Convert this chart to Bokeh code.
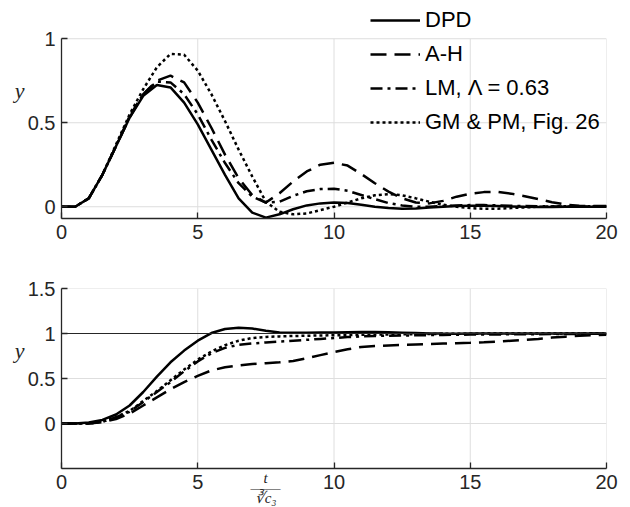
from bokeh.plotting import figure
from bokeh.models import (FixedTicker, Legend, LegendItem, Span, Range1d, LinearAxis)
from bokeh.layouts import column
from bokeh.embed import file_html
from bokeh.resources import INLINE

# ---- data ----
t = [0.0, 0.5, 1.0, 1.5, 2.0, 2.5, 3.0, 3.5, 4.0, 4.5,
     5.0, 5.5, 6.0, 6.5, 7.0, 7.5, 8.0, 8.5, 9.0, 9.5,
     10.0, 10.5, 11.0, 11.5, 12.0, 12.5, 13.0, 13.5, 14.0, 14.5,
     15.0, 15.5, 16.0, 16.5, 17.0, 17.5, 18.0, 18.5, 19.0, 19.5, 20.0]

# impulse-type responses (upper panel)
dpd_top = [0, 0, 0.05, 0.19, 0.36, 0.53, 0.66, 0.725, 0.71, 0.62,
           0.49, 0.34, 0.19, 0.05, -0.035, -0.065, -0.045, -0.015, 0.008, 0.02,
           0.025, 0.022, 0.012, 0.0, -0.008, -0.012, -0.01, -0.005, 0.0, 0.004,
           0.006, 0.006, 0.004, 0.002, 0.0, -0.001, -0.001, 0.0, 0.0, 0.0, 0.0]
ah_top = [0, 0, 0.05, 0.19, 0.36, 0.53, 0.67, 0.75, 0.78, 0.74,
          0.62, 0.47, 0.31, 0.17, 0.07, 0.025, 0.08, 0.15, 0.21, 0.25,
          0.262, 0.245, 0.195, 0.14, 0.09, 0.05, 0.025, 0.02, 0.035, 0.06,
          0.078, 0.087, 0.088, 0.078, 0.063, 0.045, 0.027, 0.013, 0.006, 0.004, 0.004]
lm_top = [0, 0, 0.05, 0.19, 0.36, 0.54, 0.67, 0.745, 0.74, 0.67,
          0.55, 0.40, 0.26, 0.14, 0.06, 0.025, 0.03, 0.065, 0.092, 0.105,
          0.107, 0.095, 0.07, 0.045, 0.022, 0.008, 0.0, 0.0, 0.004, 0.008,
          0.01, 0.01, 0.008, 0.006, 0.004, 0.003, 0.002, 0.002, 0.002, 0.002, 0.002]
gm_top = [0, 0, 0.05, 0.19, 0.37, 0.55, 0.70, 0.83, 0.91, 0.905,
          0.81, 0.67, 0.51, 0.34, 0.18, 0.03, -0.03, -0.045, -0.04, -0.02,
          0.0, 0.025, 0.05, 0.068, 0.075, 0.068, 0.05, 0.03, 0.012, 0.0,
          -0.008, -0.012, -0.012, -0.008, -0.004, 0.0, 0.002, 0.003, 0.003, 0.002, 0.001]

# step-type responses (lower panel)
dpd_bot = [0, 0, 0.01, 0.04, 0.1, 0.2, 0.35, 0.52, 0.68, 0.81,
           0.92, 1.005, 1.05, 1.064, 1.055, 1.03, 1.012, 1.008, 1.008, 1.01,
           1.012, 1.014, 1.016, 1.016, 1.013, 1.009, 1.005, 1.001, 0.999, 0.998,
           0.999, 1.0, 1.0, 1.0, 1.0, 1.0, 1.0, 1.0, 1.0, 1.0, 1.0]
ah_bot = [0, 0, 0.0, 0.015, 0.05, 0.11, 0.2, 0.29, 0.38, 0.46,
          0.53, 0.59, 0.625, 0.645, 0.66, 0.67, 0.68, 0.695, 0.725, 0.76,
          0.795, 0.825, 0.85, 0.86, 0.868, 0.873, 0.878, 0.883, 0.888, 0.892,
          0.897, 0.903, 0.91, 0.92, 0.93, 0.94, 0.955, 0.965, 0.975, 0.98, 0.985]
lm_bot = [0, 0, 0.0, 0.02, 0.07, 0.13, 0.24, 0.35, 0.46, 0.58,
          0.69, 0.78, 0.84, 0.875, 0.89, 0.9, 0.91, 0.92, 0.93, 0.94,
          0.95, 0.96, 0.968, 0.973, 0.976, 0.978, 0.98, 0.982, 0.984, 0.986,
          0.988, 0.989, 0.99, 0.991, 0.992, 0.993, 0.994, 0.995, 0.996, 0.997, 0.998]
gm_bot = [0, 0, 0.0, 0.02, 0.07, 0.14, 0.25, 0.36, 0.48, 0.6,
          0.71, 0.8, 0.87, 0.92, 0.95, 0.962, 0.968, 0.972, 0.975, 0.978,
          0.98, 0.983, 0.986, 0.988, 0.99, 0.991, 0.993, 0.994, 0.996, 0.997,
          0.998, 0.999, 1.0, 1.0, 1.0, 1.0, 1.0, 1.0, 1.0, 1.0, 1.0]

labels = ["DPD", "A-H", "LM, \u039b = 0.63", "GM & PM, Fig. 26"]
x_ticks = [0, 5, 10, 15, 20]
top_y_ticks = [0, 0.5, 1]
bot_y_ticks = [0, 0.5, 1, 1.5]
top_ylim = (-0.07, 1.0)
bot_ylim = (-0.5, 1.5)
y_label_text = "y"
x_label_text = "t\n\u2015\u2015\n\u221bc\u2083"

# ---- styles ----
styles = [
    dict(line_dash="solid"),
    dict(line_dash="16 8"),
    dict(line_dash="12 5 3 5"),
    dict(line_dash="3 3"),
]
LW = 2.5
AX = "#262626"
GRID = "#dedede"
TICK_FONT = "Liberation Sans"
TICK_SIZE = "20px"


def style_axis(ax):
    ax.major_tick_in = 6
    ax.major_tick_out = 0
    ax.minor_tick_line_color = None
    ax.axis_line_color = AX
    ax.axis_line_width = 1.3
    ax.major_tick_line_color = AX
    ax.major_tick_line_width = 1.3
    ax.major_label_text_font = TICK_FONT
    ax.major_label_text_font_size = TICK_SIZE
    ax.major_label_text_color = AX
    ax.major_label_standoff = 6


def label_axis(pos, text, size, standoff, line_height=1.2):
    """An axis with no line or tick marks that only carries one text at `pos`."""
    return LinearAxis(ticker=FixedTicker(ticks=[pos]),
                      major_label_overrides={pos: text},
                      axis_line_color=None, major_tick_line_color=None,
                      minor_tick_line_color=None,
                      major_label_text_font="Liberation Serif",
                      major_label_text_font_style="italic",
                      major_label_text_font_size=size,
                      major_label_text_color=AX,
                      major_label_standoff=standoff,
                      major_label_text_line_height=line_height)


def make_fig(ylim, view_top, yticks, frame_h, min_top, min_bottom):
    p = figure(frame_width=545, frame_height=frame_h,
               x_range=Range1d(0, 20), y_range=Range1d(ylim[0], view_top),
               output_backend="svg", toolbar_location=None,
               min_border_left=61, min_border_right=24,
               min_border_top=min_top, min_border_bottom=min_bottom)
    p.xaxis.ticker = FixedTicker(ticks=x_ticks)
    p.yaxis.ticker = FixedTicker(ticks=yticks)
    p.yaxis.bounds = ylim
    style_axis(p.xaxis[0])
    style_axis(p.yaxis[0])
    p.xgrid.visible = False
    p.ygrid.visible = False
    p.outline_line_color = None
    p.background_fill_color = "white"
    p.border_fill_color = "white"
    # grid lines, from the tick lists, limited to the axes box
    p.segment(x0=x_ticks, y0=[ylim[0]] * len(x_ticks), x1=x_ticks, y1=[ylim[1]] * len(x_ticks),
              line_color=GRID, line_width=1)
    p.segment(x0=[x_ticks[0]] * len(yticks), y0=yticks, x1=[x_ticks[-1]] * len(yticks), y1=yticks,
              line_color=GRID, line_width=1)
    return p


# ---- upper panel (frame extended upward so the legend is not clipped) ----
p1 = make_fig(top_ylim, 1.2276, top_y_ticks, 218, 0, 40)
renderers = []
for ys, st in zip([dpd_top, ah_top, lm_top, gm_top], styles):
    r = p1.line(t, ys, line_color="black", line_width=LW, line_cap="butt", **st)
    renderers.append(r)

legend = Legend(items=[LegendItem(label=lab, renderers=[r]) for lab, r in zip(labels, renderers)],
                location=(309, 83), orientation="vertical",
                padding=0, margin=0, spacing=8,
                glyph_width=50, glyph_height=20, label_height=20,
                label_standoff=5, label_text_font=TICK_FONT,
                label_text_font_size="22px", label_text_color="black",
                background_fill_alpha=0, border_line_color=None)
p1.add_layout(legend)
p1.add_layout(label_axis(0.69, y_label_text, "22px", -6), "left")

# ---- lower panel ----
p2 = make_fig(bot_ylim, bot_ylim[1], bot_y_ticks, 180, 30, 39)
p2.add_layout(Span(location=1, dimension="width", line_color=AX, line_width=1.2))
for ys, st in zip([dpd_bot, ah_bot, lm_bot, gm_bot], styles):
    p2.line(t, ys, line_color="black", line_width=LW, line_cap="butt", **st)

p2.add_layout(label_axis(0.81, y_label_text, "22px", -6), "left")
p2.add_layout(label_axis(7.49, x_label_text, "15px", -28, 0.65), "below")

layout = column(p1, p2, spacing=0)
open("out.html", "w").write(file_html(layout, INLINE))
